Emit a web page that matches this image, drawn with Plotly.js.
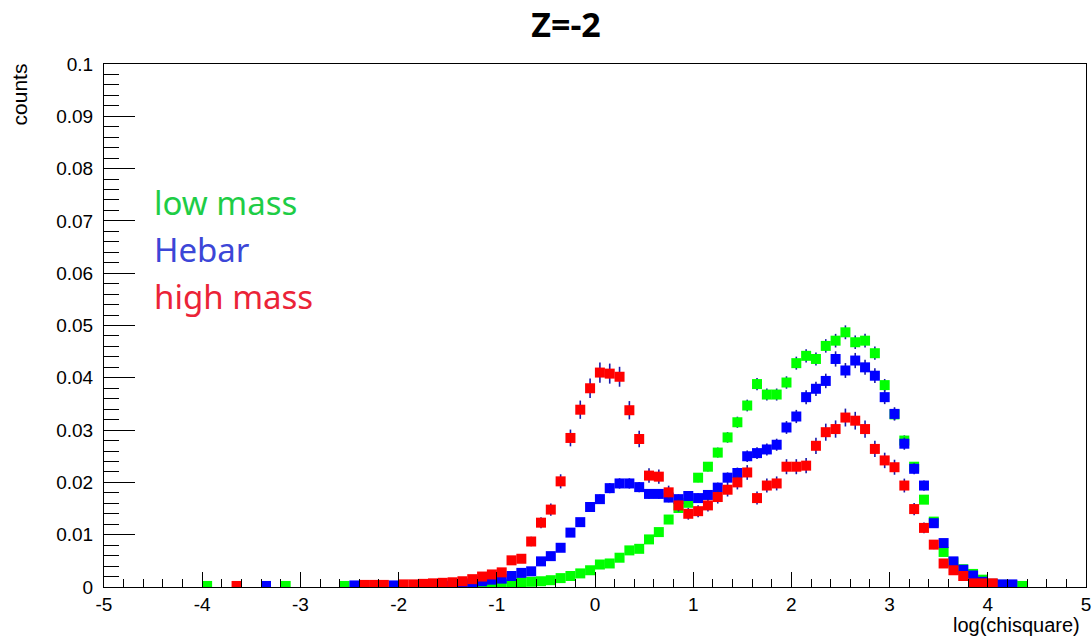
<!DOCTYPE html>
<html>
<head>
<meta charset="utf-8">
<script src="https://cdn.plot.ly/plotly-3.0.1.min.js"></script>
<style>
  html, body { margin: 0; padding: 0; background: #ffffff; }
  #chart { width: 1092px; height: 637px; }
</style>
</head>
<body>
<div id="chart"></div>
<script>
// Bin centers of log(chisquare) histogram (bin width 0.1)
const binCenters = [
  -3.95,-3.85,-3.75,-3.65,-3.55,-3.45,-3.35,-3.25,-3.15,-3.05,
  -2.95,-2.85,-2.75,-2.65,-2.55,-2.45,-2.35,-2.25,-2.15,-2.05,
  -1.95,-1.85,-1.75,-1.65,-1.55,-1.45,-1.35,-1.25,-1.15,-1.05,
  -0.95,-0.85,-0.75,-0.65,-0.55,-0.45,-0.35,-0.25,-0.15,-0.05,
   0.05, 0.15, 0.25, 0.35, 0.45, 0.55, 0.65, 0.75, 0.85, 0.95,
   1.05, 1.15, 1.25, 1.35, 1.45, 1.55, 1.65, 1.75, 1.85, 1.95,
   2.05, 2.15, 2.25, 2.35, 2.45, 2.55, 2.65, 2.75, 2.85, 2.95,
   3.05, 3.15, 3.25, 3.35, 3.45, 3.55, 3.65, 3.75, 3.85, 3.95,
   4.05, 4.15, 4.25, 4.35
];

// "low mass" (green)
const lowMass = [
  0.0002,null,null,null,null,null,null,null,0.0002,null,
  null,null,null,null,0.0002,null,null,null,null,null,
  null,null,null,null,null,0.0001,0.0002,0.0002,0.0003,0.0004,
  0.0005,0.0006,0.0009,0.0010,0.0011,0.0013,0.0017,0.0021,0.0026,0.0032,
  0.0043,0.0045,0.0056,0.0070,0.0073,0.0091,0.0105,0.0129,0.0151,0.0161,
  0.0209,0.0230,0.0257,0.0286,0.0315,0.0347,0.0388,0.0368,0.0368,0.0391,
  0.0428,0.0442,0.0436,0.0461,0.0471,0.0487,0.0468,0.0471,0.0447,0.0386,
  0.0330,0.0280,0.0230,0.0167,0.0125,0.0067,0.0047,0.0034,0.0025,0.0014,
  0.0006,0.0004,0.0003,0.0002
];

// "Hebar" (blue)
const hebar = [
  null,null,null,null,null,null,0.0002,null,null,null,
  null,null,null,null,null,0.0003,null,null,null,0.0003,
  null,null,0.0001,0.0001,0.0002,0.0003,0.0005,0.0007,0.0011,0.0014,
  0.0016,0.0021,0.0027,0.0030,0.0049,0.0059,0.0075,0.0104,0.0124,0.0153,
  0.0168,0.0189,0.0198,0.0198,0.0191,0.0178,0.0178,0.0171,0.0168,0.0174,
  0.0170,0.0176,0.0190,0.0209,0.0218,0.0250,0.0256,0.0263,0.0272,0.0305,
  0.0326,0.0363,0.0379,0.0394,0.0436,0.0414,0.0433,0.0420,0.0404,0.0363,
  0.0331,0.0274,0.0226,0.0194,0.0122,0.0084,0.0049,0.0033,0.0022,0.0010,
  0.0006,0.0005,0.0005,null
];

// "high mass" (red)
const highMass = [
  null,null,null,0.0002,null,null,null,null,null,null,
  null,null,null,null,null,null,0.0004,0.0004,0.0004,null,
  0.0005,0.0005,0.0006,0.0007,0.0008,0.0009,0.0011,0.0015,0.0020,0.0024,
  0.0028,0.0051,0.0054,0.0087,0.0123,0.0148,0.0202,0.0285,0.0339,0.0380,
  0.0410,0.0408,0.0402,0.0338,0.0283,0.0213,0.0211,0.0181,0.0156,0.0140,
  0.0145,0.0156,0.0172,0.0186,0.0200,0.0219,0.0170,0.0194,0.0198,0.0230,
  0.0230,0.0232,0.0270,0.0296,0.0302,0.0324,0.0318,0.0302,0.0264,0.0242,
  0.0229,0.0194,0.0149,0.0113,0.0081,0.0045,0.0032,0.0021,0.0007,0.0007,
  0.0007,null,null,null
];

const xTickVals = [-5,-4,-3,-2,-1,0,1,2,3,4,5];
const xTickText = ["-5","-4","-3","-2","-1","0","1","2","3","4","5"];
const yTickVals = [0,0.01,0.02,0.03,0.04,0.05,0.06,0.07,0.08,0.09,0.1];
const yTickText = ["0","0.01","0.02","0.03","0.04","0.05","0.06","0.07","0.08","0.09","0.1"];

const legendLabels = ["low mass", "Hebar", "high mass"];

// statistical error bars (scale relative to sqrt of bin content)
function errs(arr, k) { return arr.map(v => v == null ? null : k * Math.sqrt(v)); }

const errColor = "rgb(25,25,170)";
function mk(y, color, k, name) {
  return {
    type: "scatter", mode: "markers", name: name,
    x: binCenters, y: y,
    marker: { symbol: "square", size: 10, color: color, line: { width: 0 } },
    error_y: { type: "data", array: errs(y, k), visible: true, color: errColor, thickness: 1.6, width: 0 },
    showlegend: false, hoverinfo: "x+y"
  };
}

const traces = [
  mk(lowMass, "rgb(0,255,0)", 0.0060, legendLabels[0]),
  mk(hebar, "rgb(0,0,255)", 0.0070, legendLabels[1]),
  mk(highMass, "rgb(255,0,0)", 0.0095, legendLabels[2])
];

const axFont = { family: "Liberation Sans, Arial, sans-serif", size: 19, color: "#000" };
const legFont = "Noto Sans, Open Sans, sans-serif";

const layout = {
  width: 1092, height: 637,
  margin: { l: 104, r: 6, t: 64, b: 50, pad: 0 },
  paper_bgcolor: "#ffffff", plot_bgcolor: "#ffffff",
  title: {
    text: "<b>Z=-2</b>",
    font: { family: "Open Sans, Noto Sans, sans-serif", size: 34, color: "#000" },
    xref: "paper", x: 0.4705, xanchor: "center",
    yref: "container", y: 0.96, yanchor: "middle"
  },
  xaxis: {
    range: [-5, 5], tickmode: "array", tickvals: xTickVals, ticktext: xTickText,
    ticks: "inside", ticklen: 15, tickwidth: 1, tickcolor: "#000",
    showline: true, linecolor: "#000", linewidth: 1, mirror: true,
    showgrid: false, zeroline: false, tickfont: axFont,
    minor: { ticks: "inside", dtick: 0.2, tick0: 0, ticklen: 8, tickwidth: 1, tickcolor: "#000", showgrid: false }
  },
  yaxis: {
    range: [0, 0.1], tickmode: "array", tickvals: yTickVals, ticktext: yTickText,
    ticks: "inside", ticklen: 31, tickwidth: 1, tickcolor: "#000",
    showline: true, linecolor: "#000", linewidth: 1, mirror: true,
    showgrid: false, zeroline: false, tickfont: axFont, ticklabelstandoff: 6,
    minor: { ticks: "inside", dtick: 0.002, tick0: 0, ticklen: 15, tickwidth: 1, tickcolor: "#000", showgrid: false }
  },
  annotations: [
    { text: "counts", xref: "paper", yref: "paper", x: -0.086, y: 1.004, xanchor: "center", yanchor: "top",
      textangle: -90, showarrow: false, font: { family: "Liberation Sans, Arial, sans-serif", size: 21, color: "#000" } },
    { text: "log(chisquare)", xref: "paper", yref: "paper", x: 0.996, y: -0.047, xanchor: "right", yanchor: "top",
      showarrow: false, font: { family: "Liberation Sans, Arial, sans-serif", size: 20, color: "#000" } },
    { text: legendLabels[0], xref: "paper", yref: "paper", x: 0.049, y: 0.7345, xanchor: "left", yanchor: "middle",
      showarrow: false, font: { family: legFont, size: 33, color: "rgb(30,205,70)" } },
    { text: legendLabels[1], xref: "paper", yref: "paper", x: 0.049, y: 0.6447, xanchor: "left", yanchor: "middle",
      showarrow: false, font: { family: legFont, size: 33, color: "rgb(60,70,215)" } },
    { text: legendLabels[2], xref: "paper", yref: "paper", x: 0.049, y: 0.5549, xanchor: "left", yanchor: "middle",
      showarrow: false, font: { family: legFont, size: 33, color: "rgb(235,35,55)" } }
  ]
};

Plotly.newPlot("chart", traces, layout, { displayModeBar: false, staticPlot: true });
</script>
</body>
</html>
